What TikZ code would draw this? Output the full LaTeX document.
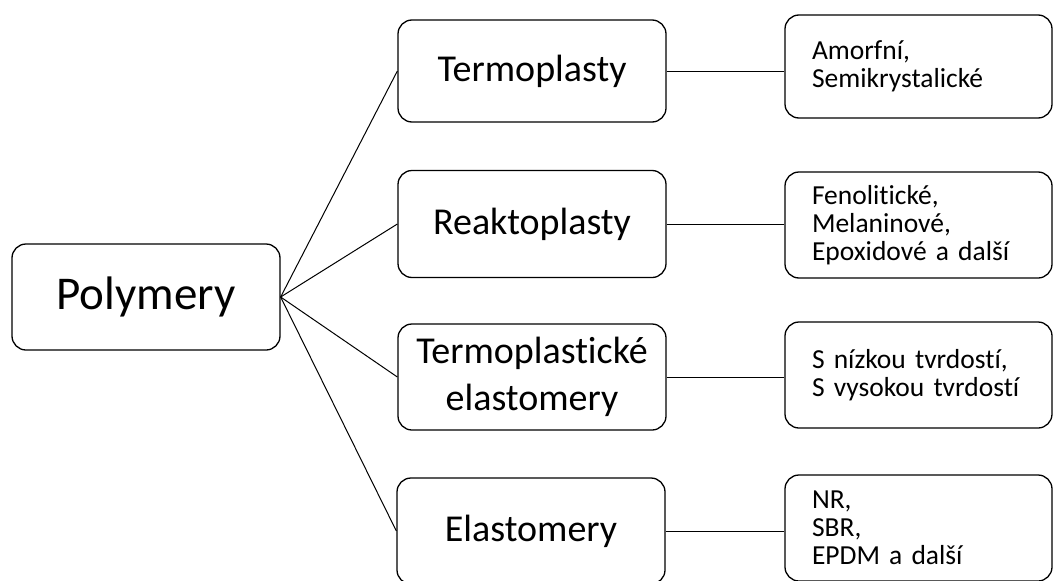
\documentclass[tikz,border=0pt]{standalone}
\usepackage{fontspec}
\setmainfont{Carlito}[RawFeature={-liga}]
\usepackage{tikz}

\begin{document}
\begin{tikzpicture}[x=1pt, y=-1pt,
    box/.style={draw, line width=1.3pt, rounded corners=14pt, inner sep=0pt,
                minimum width=268pt, minimum height=106pt, align=center},
    mid/.style={box, font=\fontsize{38}{47}\selectfont},
    leaf/.style={draw, line width=1.3pt, rounded corners=14pt, inner xsep=27pt,
                 inner ysep=0pt, text width=213pt, minimum height=106pt,
                 align=left, font=\fontsize{27.5}{28}\selectfont},
    link/.style={line width=1pt}]
    \clip (0,0) rectangle (1053,581);

    \node [box, font=\fontsize{47}{50}\selectfont] (poly) at (146,297) {Polymery};

    \node [mid, minimum height=102pt] (termo) at (532,71) {Termoplasty};
    \node [mid, minimum height=107pt] (reakt) at (532,224) {Reaktoplasty};
    \node [mid] (te) at (532,377) {Termoplastické\\elastomery};
    \node [mid] (elast) at (531,531) {Elastomery};

    \node [leaf, minimum height=103pt] (amorf) at (918.5,66.5) {Amorfní,\\Semikrystalické};
    \node [leaf] (fenol) at (918.5,225) {Fenolitické,\\Melaninové,\\Epoxidové a další};
    \node [leaf] (tvrd) at (918.5,375) {S nízkou tvrdostí,\\S vysokou tvrdostí};
    \node [leaf] (nr) at (918.5,528) {NR,\\SBR,\\EPDM a další};

    \draw [link] (poly.east) -- (termo.west);
    \draw [link] (poly.east) -- (reakt.west);
    \draw [link] (poly.east) -- (te.west);
    \draw [link] (poly.east) -- (elast.west);

    \draw [link] (termo.east) -- (termo.east -| amorf.west);
    \draw [link] (reakt.east) -- (reakt.east -| fenol.west);
    \draw [link] (te.east) -- (te.east -| tvrd.west);
    \draw [link] (elast.east) -- (elast.east -| nr.west);
\end{tikzpicture}
\end{document}
